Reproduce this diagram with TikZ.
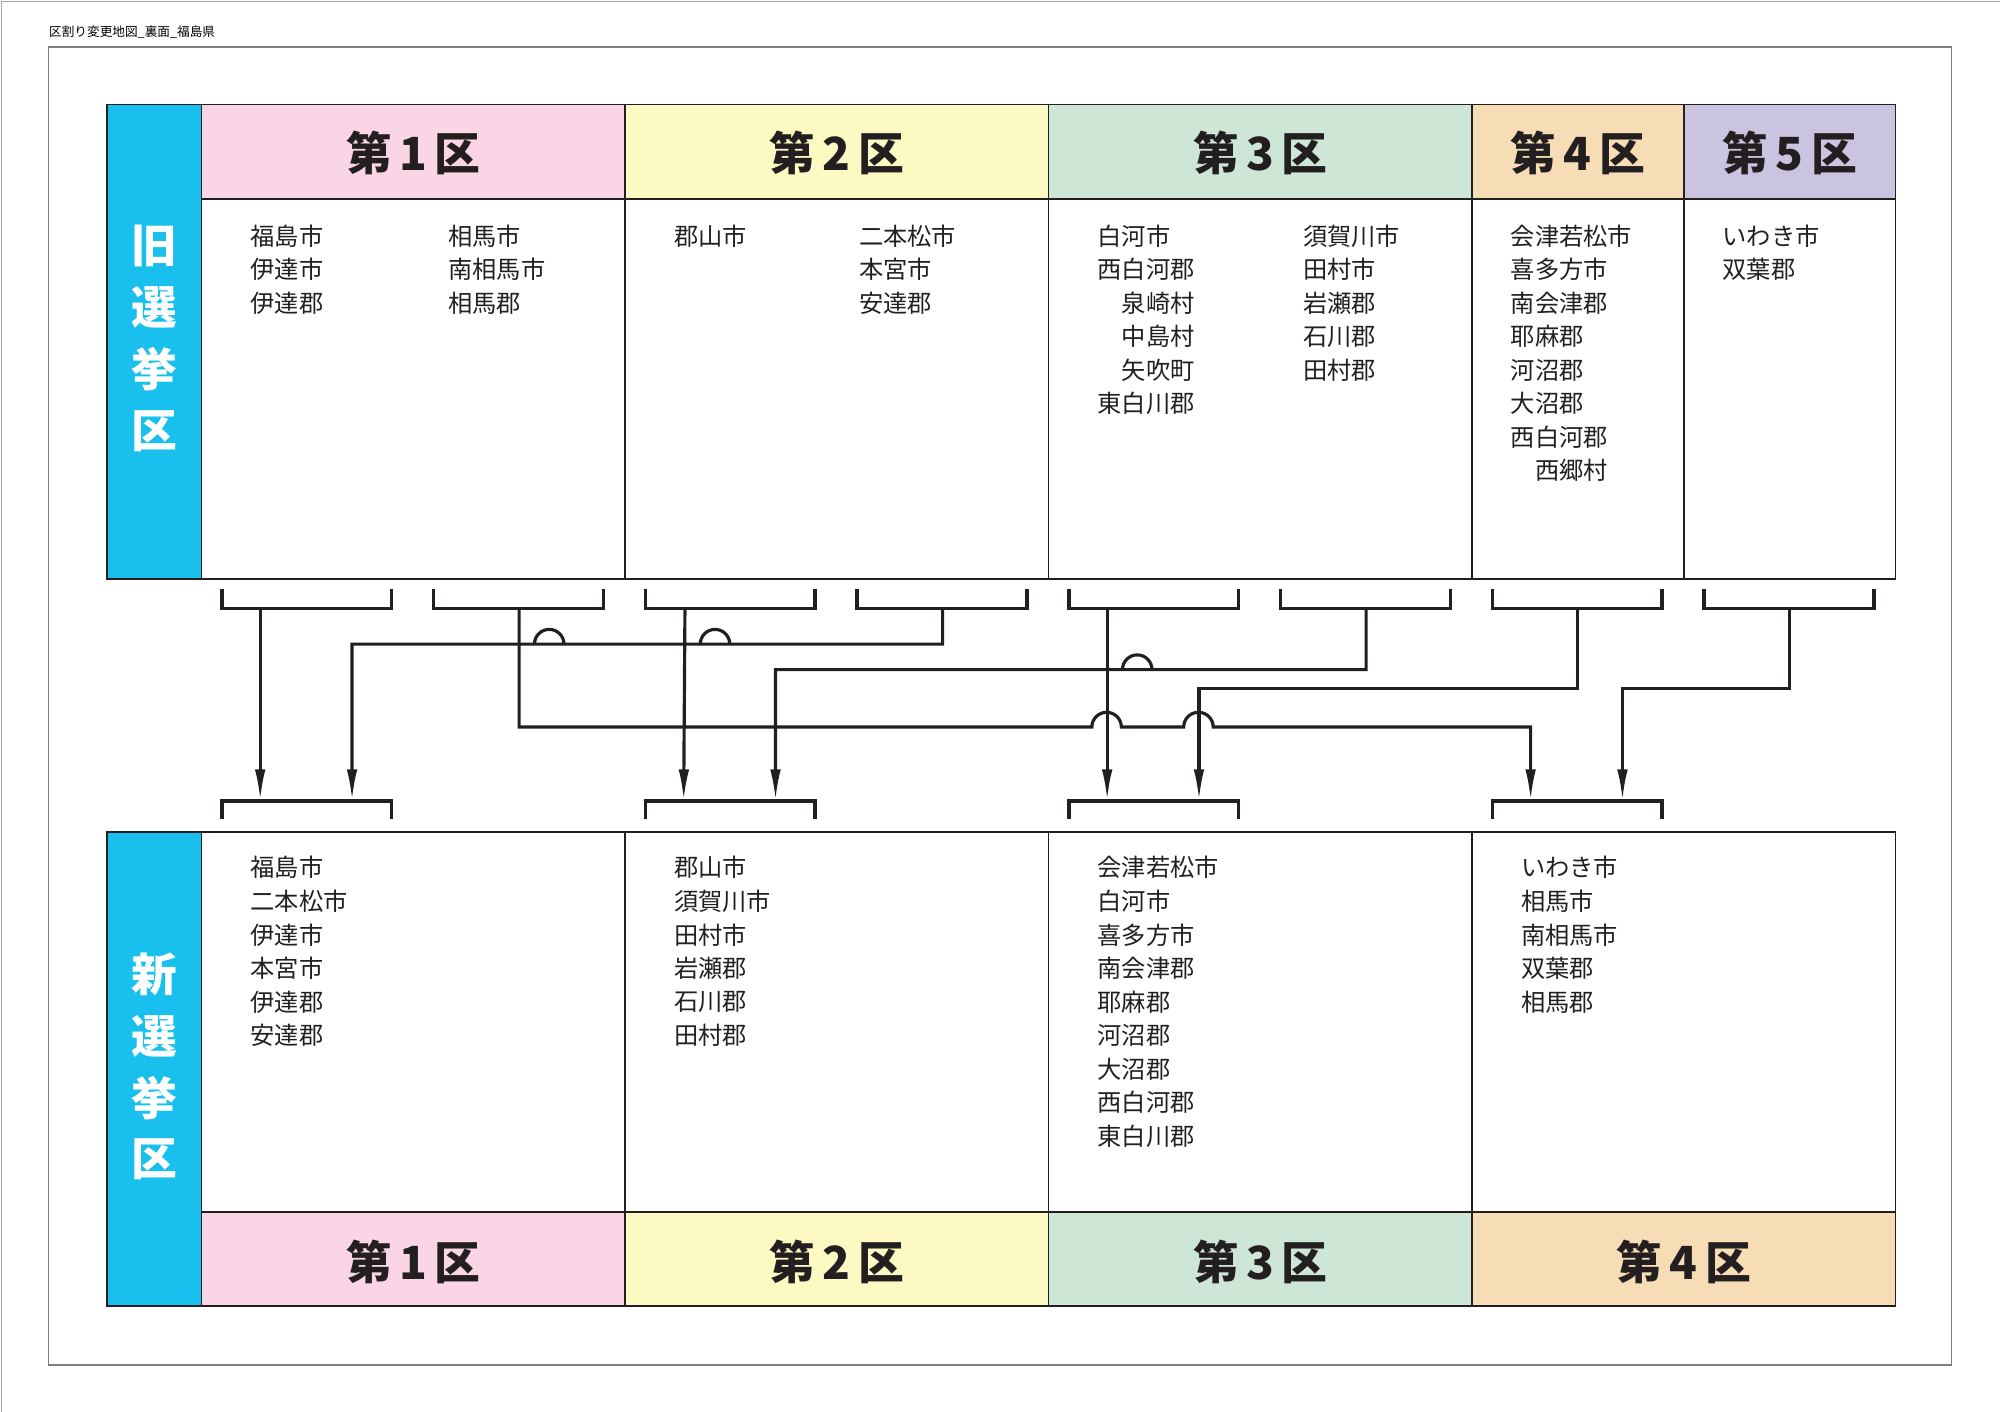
\documentclass[tikz,border=0pt]{standalone}
\usepackage{fontspec}
\usetikzlibrary{arrows.meta,positioning}
\newfontfamily\jp{Noto Sans CJK JP}
\definecolor{kuA}{HTML}{F9D5E5}
\definecolor{kuB}{HTML}{FDF9C3}
\definecolor{kuC}{HTML}{CDE6D5}
\definecolor{kuD}{HTML}{F7DDB5}
\definecolor{kuE}{HTML}{CAC4E1}
\definecolor{sideblue}{HTML}{19C0EE}
\definecolor{ink}{HTML}{231F20}
\tikzset{
  cell/.style={draw=ink,line width=0.5pt},
  head/.style={font=\jp\fontsize{13}{13}\bfseries\selectfont,text=ink},
  side/.style={font=\jp\fontsize{13}{13}\bfseries\selectfont,text=white},
  town/.style={anchor=west,inner sep=0pt,font=\jp\fontsize{6.9}{7}\selectfont,text=ink},
  brk/.style={line width=1pt,draw=ink},
  link/.style={line width=0.9pt,draw=ink},
  arr/.style={link,-{Latex[length=9pt,width=3pt]}},
}
\newcommand{\hop}{arc[start angle=180,end angle=0,radius=4.2pt]}
\begin{document}
\begin{tikzpicture}[x=0.012755cm,y=-0.012755cm]
\useasboundingbox (0,0) rectangle (1568,1107);
\draw[gray!70,line width=0.4pt] (1,1107) -- (1,1) -- (1568,1);
\draw[gray,line width=0.4pt] (38,37) rectangle (1530,1070);
\node[anchor=west,inner sep=0pt,font=\jp\fontsize{3.6}{4}\selectfont] (title) at (38,25) {区割り変更地図\_裏面\_福島県};
% old districts
\fill[sideblue] (84,82) rectangle (158,454);
\fill[kuA] (158,82) rectangle (490,156);
\fill[kuB] (490,82) rectangle (822,156);
\fill[kuC] (822,82) rectangle (1154,156);
\fill[kuD] (1154,82) rectangle (1320,156);
\fill[kuE] (1320,82) rectangle (1486,156);
\draw[cell] (84,82) rectangle (1486,454);
\draw[cell] (158,156) -- (1486,156);
\foreach \x in {158,490,822,1154,1320} \draw[cell] (\x,82) -- (\x,454);
\foreach \c/\x/\n in {1/324/1,2/656/2,3/988/3,4/1237/4,5/1403/5}
  \node[head] (oh\c) at (\x,120) {第\,\n\,区};
\foreach \ch [count=\i] in {旧,選,挙,区}
  \node[side] (os\i) at (121,144+48.5*\i) {\ch};
% new districts
\fill[sideblue] (84,652) rectangle (158,1024);
\fill[kuA] (158,950) rectangle (490,1024);
\fill[kuB] (490,950) rectangle (822,1024);
\fill[kuC] (822,950) rectangle (1154,1024);
\fill[kuD] (1154,950) rectangle (1486,1024);
\draw[cell] (84,652) rectangle (1486,1024);
\draw[cell] (158,950) -- (1486,950);
\foreach \x in {158,490,822,1154} \draw[cell] (\x,652) -- (\x,1024);
\foreach \c/\x/\n in {1/324/1,2/656/2,3/988/3,4/1320/4}
  \node[head] (nh\c) at (\x,989) {第\,\n\,区};
\foreach \ch [count=\i] in {新,選,挙,区}
  \node[side] (ns\i) at (121,716+48.3*\i) {\ch};
% town lists
\foreach \x/\lst/\k in {196/{福島市,伊達市,伊達郡}/a,351/{相馬市,南相馬市,相馬郡}/b,
    528/{郡山市}/c,673/{二本松市,本宮市,安達郡}/d,
    860/{白河市,西白河郡,\quad 泉崎村,\quad 中島村,\quad 矢吹町,東白川郡}/e,
    1021/{須賀川市,田村市,岩瀬郡,石川郡,田村郡}/f,
    1184/{会津若松市,喜多方市,南会津郡,耶麻郡,河沼郡,大沼郡,西白河郡,\quad 西郷村}/g,
    1350/{いわき市,双葉郡}/h}
  \foreach \t [count=\i] in \lst
    \node[town] (o\k\i) at (\x,158.6+26.3*\i) {\t};
\foreach \x/\lst/\k in {196/{福島市,二本松市,伊達市,本宮市,伊達郡,安達郡}/a,
    528/{郡山市,須賀川市,田村市,岩瀬郡,石川郡,田村郡}/b,
    860/{会津若松市,白河市,喜多方市,南会津郡,耶麻郡,河沼郡,大沼郡,西白河郡,東白川郡}/c,
    1192/{いわき市,相馬市,南相馬市,双葉郡,相馬郡}/d}
  \foreach \t [count=\i] in \lst
    \node[town] (n\k\i) at (\x,654+26.3*\i) {\t};
% brackets
\foreach \a/\b/\m [count=\i] in {174/307/204,340/473/407,506/639/537,672/805/739,838/971/868,1004/1137/1071,1170/1303/1237,1336/1469/1403} {
  \draw[brk] (\a,462) -- (\a,477) -- (\b,477) -- (\b,462);
  \coordinate (ob\i) at (\m,477);
}
\foreach \a/\b [count=\i] in {174/307,506/639,838/971,1170/1303} {
  \draw[brk] (\a,642) -- (\a,628) -- (\b,628) -- (\b,642);
  \coordinate (nbl\i) at (\a+30,628);
  \coordinate (nbr\i) at (\a+102,628);
}
% connectors
\draw[arr] (ob1) -- (nbl1);
\draw[arr] (ob3) -- (nbl2);
\draw[arr] (ob5) -- (nbl3);
\draw[arr] (ob4) |- (549,505) \hop -- (419,505) \hop -- (nbr1 |- 0,505) -- (nbr1);
\draw[arr] (ob6) |- (880,525) \hop -- (nbr2 |- 0,525) -- (nbr2);
\draw[arr] (ob7) |- (nbr3 |- 0,540) -- (nbr3);
\draw[arr] (ob8) |- (nbr4 |- 0,540) -- (nbr4);
\draw[arr] (ob2) |- (856,570) \hop -- (928,570) \hop -- (nbl4 |- 0,570) -- (nbl4);
\end{tikzpicture}
\end{document}
